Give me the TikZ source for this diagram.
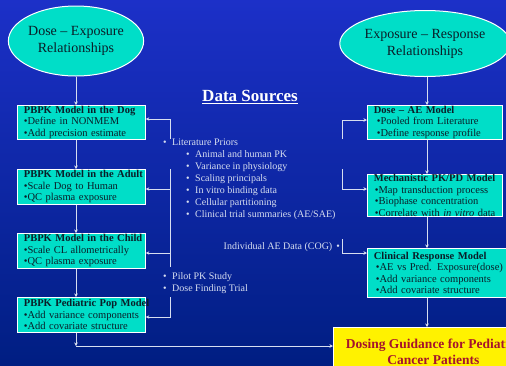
\documentclass[tikz,border=0pt]{standalone}
\usepackage{fontspec}
\setmainfont{Liberation Serif}
\usetikzlibrary{shapes.geometric,arrows.meta}
\definecolor{turq}{RGB}{0,222,200}
\definecolor{boxtext}{RGB}{10,30,40}
\definecolor{wirec}{RGB}{215,222,240}
\definecolor{bgtop}{RGB}{28,48,200}
\definecolor{bgmid}{RGB}{0,52,235}
\definecolor{bgbot}{RGB}{0,30,130}
\definecolor{guidetext}{RGB}{165,20,45}

\begin{document}
\begin{tikzpicture}[x=1pt,y=-1pt,
  stage/.style={ellipse, draw=white, line width=1pt, fill=turq, text=boxtext,
    inner sep=0pt, align=center, font=\fontsize{14}{17}\selectfont},
  model/.style={rectangle, draw=white, line width=0.8pt, fill=turq, text=boxtext,
    inner xsep=6.5pt, inner ysep=0pt, align=left, anchor=north west,
    font=\fontsize{10.5}{11.5}\selectfont},
  wire/.style={draw=wirec, line width=0.8pt},
  arr/.style={wire, -{Stealth[length=3.5pt,width=3.5pt]}},
  src/.style={text=wirec, anchor=west, inner sep=0pt, text height=7pt,
    text depth=2pt, font=\fontsize{10}{12}\selectfont}
]
\useasboundingbox (0,0) rectangle (506,365);
\shade[top color=bgtop, middle color=bgmid, bottom color=bgbot] (0,0) rectangle (506,365);

% headline ellipses
\node[stage, minimum width=126pt, minimum height=70pt] (lel) at (76,41) {Dose – Exposure\\Relationships};
\node[stage, minimum width=126pt, minimum height=66pt] (rel) at (425,43.5) {Exposure – Response\\Relationships};

% PK model chain (left)
\node[model, minimum width=128pt, minimum height=34pt, text width=115pt] (dog) at (17,105)
  {\mbox{\textbf{PBPK Model in the Dog}}\\\mbox{•Define in NONMEM}\\\mbox{•Add precision estimate}};
\node[model, minimum width=128pt, minimum height=35pt, text width=115pt] (adult) at (17,169)
  {\mbox{\textbf{PBPK Model in the Adult}}\\\mbox{•Scale Dog to Human}\\\mbox{•QC plasma exposure}};
\node[model, minimum width=128pt, minimum height=35pt, text width=115pt] (child) at (17,233)
  {\mbox{\textbf{PBPK Model in the Child}}\\\mbox{•Scale CL allometrically}\\\mbox{•QC plasma exposure}};
\node[model, minimum width=128pt, minimum height=35pt, text width=115pt] (ped) at (17,297)
  {\mbox{\textbf{PBPK Pediatric Pop Model}}\\\mbox{•Add variance components}\\\mbox{•Add covariate structure}};

% response model chain (right)
\node[model, minimum width=135pt, minimum height=34pt, text width=122pt] (doseae) at (367,105)
  {\mbox{\textbf{Dose – AE Model}}\\\mbox{\hspace{3pt}•Pooled from Literature}\\\mbox{\hspace{3pt}•Define response profile}};
\node[model, minimum width=135pt, minimum height=42pt, text width=122pt] (mech) at (367,174)
  {\mbox{\textbf{Mechanistic PK/PD Model}}\\\mbox{\hspace{1pt}•Map transduction process}\\\mbox{\hspace{1pt}•Biophase concentration}\\\mbox{\hspace{1pt}•Correlate with \textit{in vitro} data}};
\node[model, minimum width=145pt, minimum height=49pt, text width=132pt] (clin) at (367,248)
  {\mbox{\textbf{Clinical Response Model}}\\\mbox{\hspace{2pt}•AE vs Pred. Exposure(dose)}\\\mbox{\hspace{2pt}•Add variance components}\\\mbox{\hspace{2pt}•Add covariate structure}};

% final outcome
\node[rectangle, draw=white, line width=0.8pt, fill=yellow, anchor=north west,
  minimum width=200pt, minimum height=48pt, text=guidetext, align=center,
  font=\bfseries\fontsize{13.5}{16}\selectfont] (guide) at (333,327)
  {Dosing Guidance for Pediatric\\Cancer Patients};

% data sources
\node[text=white, font=\bfseries\fontsize{17}{20}\selectfont] (dstitle) at (250,97) {\underline{Data Sources}};
\node[src] (lit) at (163,143) {\makebox[9pt][l]{•}Literature Priors};
\node[src] (s1) at (186,155) {\makebox[9pt][l]{•}Animal and human PK};
\node[src] (s2) at (186,167) {\makebox[9pt][l]{•}Variance in physiology};
\node[src] (s3) at (186,179) {\makebox[9pt][l]{•}Scaling principals};
\node[src] (s4) at (186,191) {\makebox[9pt][l]{•}In vitro binding data};
\node[src] (s5) at (186,203) {\makebox[9pt][l]{•}Cellular partitioning};
\node[src] (s6) at (186,215) {\makebox[9pt][l]{•}Clinical trial summaries (AE/SAE)};
\node[src] (pilot) at (163,277) {\makebox[9pt][l]{•}Pilot PK Study};
\node[src] (dft) at (163,289) {\makebox[9pt][l]{•}Dose Finding Trial};
\node[src, anchor=east] (indiv) at (340,247) {Individual AE Data (COG)\hspace{4pt}•};

% vertical flow, left
\coordinate (lk) at (76,346);
\draw[arr] (lel.south) -- (lel.south |- dog.north);
\draw[arr] (dog.south -| lel.south) -- (adult.north -| lel.south);
\draw[arr] (adult.south -| lel.south) -- (child.north -| lel.south);
\draw[arr] (child.south -| lel.south) -- (ped.north -| lel.south);
\draw[arr] (ped.south -| lel.south) -- (lk);
\draw[arr] (lk) -- (guide.west |- lk);

% vertical flow, right
\coordinate (rx) at (427,0);
\draw[arr] (rel.south -| rx) -- (doseae.north -| rx);
\draw[arr] (doseae.south -| rx) -- (mech.north -| rx);
\draw[arr] (mech.south -| rx) -- (clin.north -| rx);
\draw[arr] (clin.south -| rx) -- (guide.north -| rx);

% brackets feeding the PK models
\coordinate (la) at (170,139); \coordinate (lb) at (170,119);
\draw[arr] (la) -- (lb) -- (dog.east |- lb);
\coordinate (lc) at (170,169); \coordinate (ld) at (170,267);
\draw[wire] (lc) -- (ld);
\coordinate (le) at (170,189); \coordinate (lf) at (170,253);
\draw[arr] (le) -- (adult.east |- le);
\draw[arr] (lf) -- (child.east |- lf);
\coordinate (lg) at (170,297); \coordinate (lh) at (170,317);
\draw[arr] (lg) -- (lh) -- (ped.east |- lh);

% brackets feeding the response models
\coordinate (ra) at (342,139); \coordinate (rb) at (342,120);
\draw[arr] (ra) -- (rb) -- (doseae.west |- rb);
\coordinate (rc) at (342,169); \coordinate (rd) at (342,189);
\draw[arr] (rc) -- (rd) -- (mech.west |- rd);
\coordinate (re) at (342,239); \coordinate (rf) at (342,253);
\draw[arr] (re) -- (rf) -- (clin.west |- rf);
\end{tikzpicture}
\end{document}
